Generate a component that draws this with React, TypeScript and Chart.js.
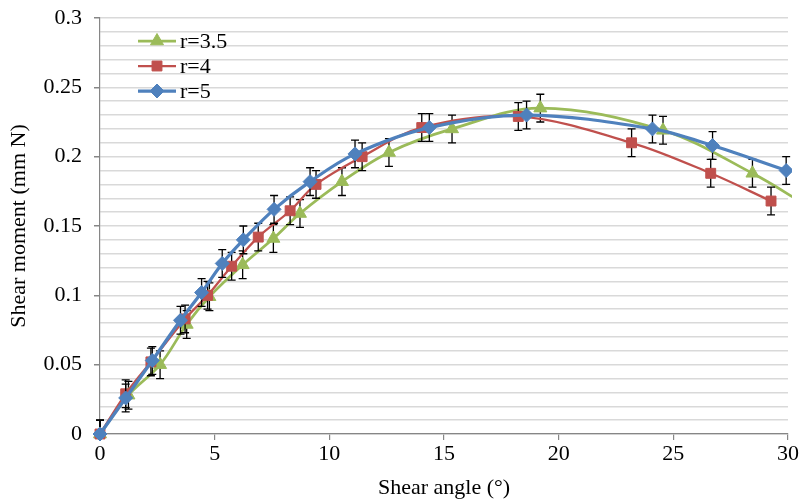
import React, { useEffect, useRef } from 'react';
import { Chart, registerables } from 'chart.js';
import { drawPoint } from 'chart.js/helpers';

Chart.register(...registerables);

// ---- data ----
const seriesLabels = ['r=3.5', 'r=4', 'r=5'];

const angle35 = [0, 1.24, 2.62, 3.78, 4.77, 6.22, 7.56, 8.72, 10.55, 12.6, 15.35, 19.2, 24.55, 28.45, 30.8];
const moment35 = [0, 0.028, 0.05, 0.079, 0.099, 0.122, 0.141, 0.159, 0.182, 0.203, 0.22, 0.235, 0.219, 0.188, 0.165];
const err35 = [0.01, 0.01, 0.01, 0.01, 0.01, 0.01, 0.01, 0.01, 0.01, 0.01, 0.01, 0.01, 0.01, 0.01, 0];

const angle4 = [0, 1.12, 2.22, 3.71, 4.69, 5.74, 6.9, 8.29, 9.42, 11.43, 14.03, 18.24, 23.18, 26.63, 29.26];
const moment4 = [0, 0.029, 0.052, 0.083, 0.1, 0.121, 0.142, 0.161, 0.18, 0.2, 0.221, 0.229, 0.21, 0.188, 0.168];
const err4 = [0.01, 0.01, 0.01, 0.01, 0.01, 0.01, 0.01, 0.01, 0.01, 0.01, 0.01, 0.01, 0.01, 0.01, 0.01];

const angle5 = [0, 1.12, 2.28, 3.51, 4.43, 5.33, 6.25, 7.59, 9.16, 11.12, 14.36, 18.6, 24.09, 26.71, 29.92];
const moment5 = [0, 0.026, 0.053, 0.082, 0.102, 0.123, 0.14, 0.162, 0.182, 0.202, 0.221, 0.23, 0.22, 0.208, 0.19];
const err5 = [0.01, 0.01, 0.01, 0.01, 0.01, 0.01, 0.01, 0.01, 0.01, 0.01, 0.01, 0.01, 0.01, 0.01, 0.01];

const xMin = 0, xMax = 30, xStep = 5;
const yMin = 0, yMax = 0.3, yMinorStep = 0.01, yMajorStep = 0.05;
const xTitle = 'Shear angle (°)';
const yTitle = 'Shear moment (mm N)';

const FONT = '"Times New Roman", "Liberation Serif", serif';
const FS = 22;
const toPts = (xs: number[], ys: number[]) => xs.map((x, i) => ({ x, y: ys[i] }));

const errorBarPlugin = {
  id: 'errorBars',
  beforeDatasetDraw(chart: any, args: any) {
    const ds = chart.data.datasets[args.index];
    const errs: number[] | undefined = ds.errors;
    if (!errs) return;
    const yScale = chart.scales.y;
    const area = chart.chartArea;
    const ctx = chart.ctx;
    ctx.save();
    ctx.beginPath();
    ctx.rect(area.left - 20, area.top - 20, area.right - area.left + 40, area.bottom - area.top + 20);
    ctx.clip();
    ctx.strokeStyle = '#000';
    ctx.lineWidth = 1.3;
    args.meta.data.forEach((pt: any, i: number) => {
      const e = errs[i];
      if (!e) return;
      const v = ds.data[i].y;
      const x = pt.x;
      const yt = yScale.getPixelForValue(v + e);
      const yb = yScale.getPixelForValue(v - e);
      ctx.beginPath();
      ctx.moveTo(x, yt); ctx.lineTo(x, yb);
      ctx.moveTo(x - 4, yt); ctx.lineTo(x + 4, yt);
      ctx.moveTo(x - 4, yb); ctx.lineTo(x + 4, yb);
      ctx.stroke();
    });
    ctx.restore();
  },
};

const legendPlugin = {
  id: 'insideLegend',
  afterDraw(chart: any) {
    const ctx = chart.ctx;
    const area = chart.chartArea;
    const offsets = [23, 48, 73];
    ctx.save();
    chart.data.datasets.forEach((ds: any, i: number) => {
      const y = area.top + offsets[i];
      const x0 = area.left + 38, x1 = area.left + 76;
      ctx.strokeStyle = ds.borderColor;
      ctx.lineWidth = ds.borderWidth;
      ctx.beginPath();
      ctx.moveTo(x0, y); ctx.lineTo(x1, y);
      ctx.stroke();
      ctx.fillStyle = ds.pointBackgroundColor;
      ctx.strokeStyle = ds.pointBorderColor;
      ctx.lineWidth = 1;
      drawPoint(ctx, { pointStyle: ds.pointStyle, radius: ds.pointRadius, rotation: 0, borderWidth: 1 }, (x0 + x1) / 2, y);
      ctx.fillStyle = '#000';
      ctx.font = `${FS}px ${FONT}`;
      ctx.textBaseline = 'middle';
      ctx.textAlign = 'left';
      ctx.fillText(ds.label, x1 + 4, y + 1);
    });
    ctx.restore();
  },
};

export default function App() {
  const ref = useRef<HTMLCanvasElement>(null);
  useEffect(() => {
    document.body.style.margin = '0';
    const colors = ['#9BBB59', '#C0504D', '#4F81BD'];
    const styles = ['triangle', 'rect', 'rectRot'];
    const radii = [7.5, 7, 7];
    const widths = [2.75, 2.25, 3.25];
    const xs = [angle35, angle4, angle5];
    const ys = [moment35, moment4, moment5];
    const es = [err35, err4, err5];
    const datasets: any[] = seriesLabels.map((label, i) => ({
      label,
      data: toPts(xs[i], ys[i]),
      errors: es[i],
      borderColor: colors[i],
      backgroundColor: colors[i],
      pointBackgroundColor: colors[i],
      pointBorderColor: colors[i],
      pointBorderWidth: 1,
      pointStyle: styles[i],
      pointRadius: radii[i],
      borderWidth: widths[i],
      tension: 0.35,
      order: 3 - i,
      clip: { left: 10, right: 4, top: 10, bottom: 12 },
    }));
    const chart = new Chart(ref.current!, {
      type: 'scatter',
      data: { datasets },
      options: {
        animation: false,
        responsive: false,
        devicePixelRatio: 1,
        showLine: true,
        layout: { padding: { left: 0, top: 18, right: 13, bottom: 0 } },
        plugins: { legend: { display: false }, tooltip: { enabled: false } },
        scales: {
          x: {
            type: 'linear',
            min: xMin,
            max: xMax,
            afterFit: (s: any) => { s.height = 70; s.paddingLeft = 0; s.paddingRight = 0; },
            ticks: { stepSize: xStep, color: '#000', font: { family: FONT, size: FS }, padding: 1 },
            grid: { drawOnChartArea: false, drawTicks: true, tickLength: 6, color: '#868686', lineWidth: 1.2 },
            border: { color: '#868686', width: 1.2 },
            title: { display: true, text: xTitle, color: '#000', font: { family: FONT, size: FS }, padding: { top: 0, bottom: 3 } },
          },
          y: {
            type: 'linear',
            min: yMin,
            max: yMax,
            afterFit: (s: any) => { s.width = 100; s.paddingTop = 0; s.paddingBottom = 0; },
            ticks: {
              stepSize: yMinorStep,
              autoSkip: false,
              color: '#000',
              padding: 12,
              font: { family: FONT, size: FS },
              callback: (v: any) => {
                const r = v / yMajorStep;
                return Math.abs(r - Math.round(r)) < 1e-6 ? String(Math.round(v * 100) / 100) : '';
              },
            },
            grid: {
              color: '#d9d9d9',
              lineWidth: 1.5,
              tickLength: 6,
              tickColor: (c: any) => {
                const v = c.tick ? c.tick.value : 0;
                const r = v / yMajorStep;
                return Math.abs(r - Math.round(r)) < 1e-6 ? '#868686' : 'rgba(0,0,0,0)';
              },
            },
            border: { color: '#868686', width: 1.2 },
            title: { display: true, text: yTitle, color: '#000', font: { family: FONT, size: FS }, padding: { top: 6, bottom: 0 } },
          },
        },
      } as any,
      plugins: [errorBarPlugin, legendPlugin],
    });
    return () => chart.destroy();
  }, []);
  return (
    <div style={{ width: 801, height: 504 }}>
      <canvas ref={ref} width={801} height={504} />
    </div>
  );
}
